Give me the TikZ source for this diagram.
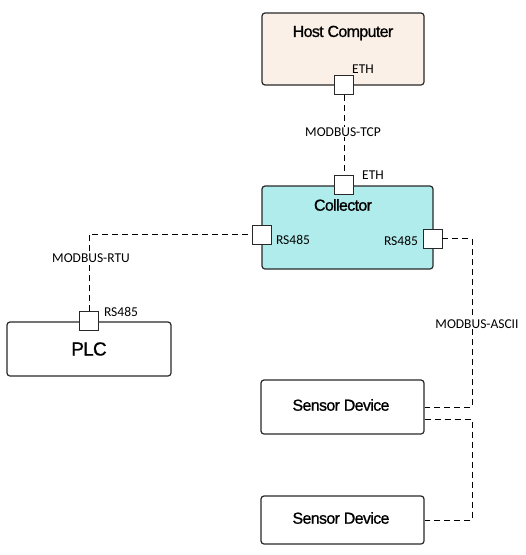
\documentclass[tikz,border=0pt]{standalone}
\usepackage{fontspec}
\setmainfont{Liberation Sans}
\newfontfamily\petite{Carlito}
\newfontfamily\grasse[FakeBold=0.9,LetterSpace=-4]{Liberation Sans}
\definecolor{hotefond}{RGB}{250,240,231}
\definecolor{collfond}{RGB}{176,236,236}
\definecolor{trait}{RGB}{40,40,40}
\begin{document}
\begin{tikzpicture}[x=1pt,y=-1pt]
\tikzset{boite/.style={draw=trait, line width=1.2pt, rounded corners=3pt, inner sep=0pt},
port/.style={draw=trait, fill=white, line width=0.9pt, minimum size=19pt, inner sep=0pt},
titre/.style={font=\grasse\fontsize{16}{18}\selectfont},
etiq/.style={font=\petite\fontsize{13.5}{15}\selectfont, inner sep=1pt},
liaison/.style={line width=0.9pt, dash pattern=on 6pt off 4pt}}
\useasboundingbox (0,0) rectangle (526,555);
% boites
\node[boite, fill=hotefond, minimum width=162pt, minimum height=72pt] (H) at (343,49) {};
\node[boite, fill=collfond, minimum width=171pt, minimum height=83pt] (C) at (347.5,227.5) {};
\node[boite, fill=white, minimum width=164pt, minimum height=54pt] (P) at (89,349) {};
\node[boite, fill=white, minimum width=163pt, minimum height=54pt] (S1) at (342.5,407) {};
\node[boite, fill=white, minimum width=163pt, minimum height=48pt] (S2) at (342.5,520) {};
\node[titre] (Ht) at (343,33) {Host Computer};
\node[titre] (Ct) at (343,205) {Collector};
\node[titre, font=\grasse\fontsize{19}{21}\selectfont] (Pt) at (89,349) {PLC};
\node[titre] (S1t) at (341,405) {Sensor Device};
\node[titre] (S2t) at (341,518) {Sensor Device};
% ports
\node[port] (HE) at (344,85) {};
\node[port] (CE) at (344,184.5) {};
\node[port] (CG) at (261.5,234.5) {};
\node[port] (CD) at (432.5,238.5) {};
\node[port] (PR) at (89,321) {};
\node[etiq] (HEl) at (363,69) {ETH};
\node[etiq] (CEl) at (373,175) {ETH};
\node[etiq] (CGl) at (293,240) {RS485};
\node[etiq] (CDl) at (401,241) {RS485};
\node[etiq] (PRl) at (121,312) {RS485};
% liaisons
\coordinate (A1) at (472,238.5);
\coordinate (A2) at (472,419);
\draw[liaison] (HE) -- (CE);
\draw[liaison] (PR) |- (CG);
\draw[liaison] (CD) -- (A1) |- (S1.east);
\draw[liaison] ([yshift=-12pt]S1.east) -- (A2) |- (S2.east);
\node[etiq, fill=white] (tcp) at (343,132) {MODBUS-TCP};
\node[etiq, fill=white] (rtu) at (91,258) {MODBUS-RTU};
\node[etiq, fill=white] (ascii) at (477,324) {MODBUS-ASCII};
\end{tikzpicture}
\end{document}
